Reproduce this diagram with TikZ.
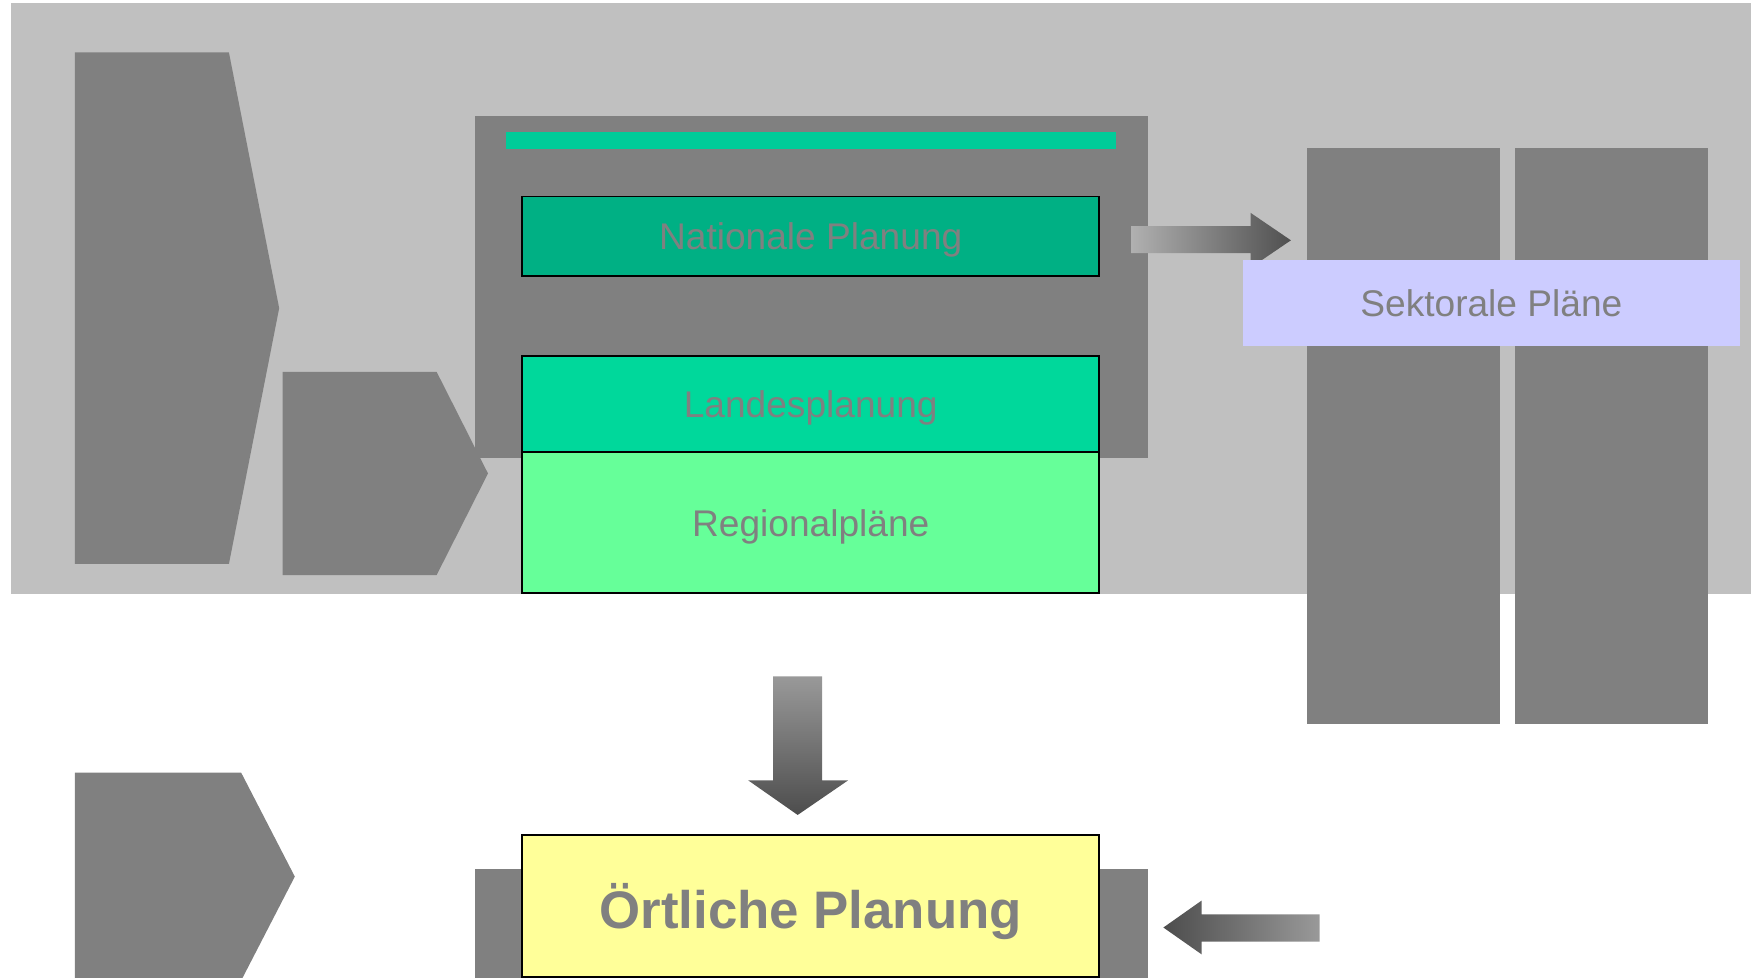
\documentclass[tikz,border=0pt]{standalone}
\usepackage{fontspec}
\setmainfont{Liberation Sans}
\definecolor{bgray}{RGB}{192,192,192}
\definecolor{dgray}{RGB}{128,128,128}
\definecolor{tealbar}{RGB}{0,204,153}
\definecolor{natgreen}{RGB}{0,176,132}
\definecolor{landgreen}{RGB}{0,216,155}
\definecolor{reggreen}{RGB}{102,255,153}
\definecolor{lilac}{RGB}{204,204,255}
\definecolor{lyellow}{RGB}{255,255,153}
\definecolor{arlight}{RGB}{176,176,176}
\definecolor{ardark}{RGB}{80,80,80}
\definecolor{arlight2}{RGB}{153,153,153}
\definecolor{ardark2}{RGB}{77,77,77}
\begin{document}
\begin{tikzpicture}[x=0.01cm,y=-0.01cm,
  lab/.style={text=dgray, text depth=0pt, font=\fontsize{9.45pt}{11pt}\selectfont},
  planbox/.style={draw=black, line width=0.5pt, inner sep=0pt, minimum width=5.16cm, lab},
  shapefill/.style={fill=dgray}]
\useasboundingbox (0,0) rectangle (1568,875.8);
% background
\fill[bgray] (10,3) rectangle (1568,532);
% left chevrons
\fill[shapefill] (67,47) -- (205,47) -- (250,276) -- (205,505) -- (67,505) -- cycle;
\fill[shapefill] (253,333) -- (391,333) -- (437,424) -- (391,515) -- (253,515) -- cycle;
\fill[shapefill] (67,692) -- (216,692) -- (264,785) -- (216,878) -- (67,878) -- cycle;
% central frame
\fill[shapefill] (425,104) rectangle (1028,410);
\fill[tealbar] (453,118) rectangle (999,133);
% right columns
\fill[shapefill] (1170.5,132.7) rectangle (1343,648.6);
\fill[shapefill] (1356.7,132.7) rectangle (1529.2,648.6);
% right arrow
\shade[left color=arlight, right color=ardark]
  (1013,202.6) -- (1120,202.6) -- (1120,190.7) -- (1156,215.2) -- (1120,239.7) -- (1120,226.7) -- (1013,226.7) -- cycle;
% sektorale
\node[fill=lilac, minimum width=4.45cm, minimum height=0.77cm, inner sep=0pt, lab] (sek) at (1335.5,271.5) {Sektorale Pläne};
% planning boxes
\node[planbox, fill=natgreen, minimum height=0.71cm] (nat) at (726,211.5) {Nationale Planung};
\node[planbox, fill=landgreen, minimum height=0.86cm] (land) at (726,362) {Landesplanung};
\node[planbox, fill=reggreen, minimum height=1.26cm] (reg) at (726,468) {Regionalpläne};
% down arrow
\shade[top color=arlight2, bottom color=ardark2]
  (692.4,605.7) -- (736.3,605.7) -- (736.3,698.8) -- (759.5,698.8) -- (714.3,729.8) -- (670,698.8) -- (692.4,698.8) -- cycle;
% bottom tabs and local box
\fill[shapefill] (425,778) rectangle (1028,878);
\node[planbox, fill=lyellow, minimum height=1.27cm, font=\bfseries\fontsize{13.45pt}{16pt}\selectfont] (ort) at (726,811.5) {Örtliche Planung};
% left arrow
\shade[left color=ardark2, right color=arlight2]
  (1041.8,830.6) -- (1076,806.5) -- (1076,818.8) -- (1181.7,818.8) -- (1181.7,843.3) -- (1076,843.3) -- (1076,854.6) -- cycle;
\end{tikzpicture}
\end{document}
